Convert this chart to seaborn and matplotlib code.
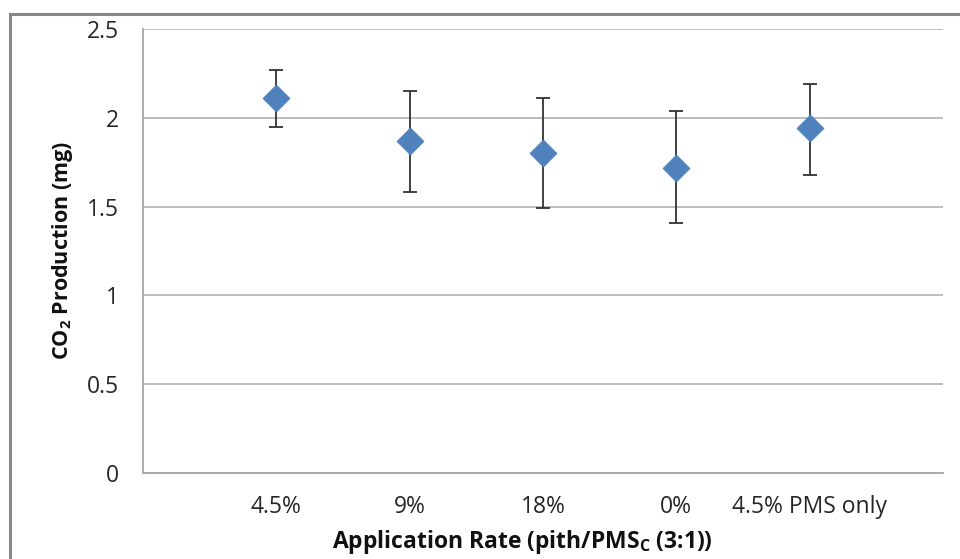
import matplotlib
matplotlib.use("Agg")
import matplotlib.pyplot as plt
import matplotlib.patches as mpatches
import pandas as pd
import seaborn as sns
from matplotlib.ticker import FuncFormatter

rates = ["4.5%", "9%", "18%", "0%", "4.5% PMS only"]
co2_mean = [2.11, 1.87, 1.80, 1.72, 1.94]
err_low = [1.95, 1.58, 1.49, 1.41, 1.68]
err_high = [2.27, 2.15, 2.11, 2.04, 2.19]

df = pd.DataFrame({"rate": rates, "co2": co2_mean, "low": err_low, "high": err_high})

sns.set_theme(style="white")
plt.rcParams["font.family"] = ["Open Sans", "DejaVu Sans"]
plt.rcParams["mathtext.fontset"] = "custom"
plt.rcParams["mathtext.rm"] = "Open Sans:bold"
plt.rcParams["mathtext.it"] = "Open Sans:bold"

fig = plt.figure(figsize=(9.6, 5.59), dpi=100)
ax = fig.add_axes((143 / 960, 86 / 559, 800 / 960, 444 / 559))

# outer chart frame, as in the Excel export
fig.patches.append(
    mpatches.Rectangle((10 / 960, -0.05), 1.1, (545 / 559) + 0.05, transform=fig.transFigure,
                       fill=False, edgecolor="#878787", linewidth=2.2, zorder=0)
)

ax.errorbar(df["rate"], df["co2"], yerr=[df["co2"] - df["low"], df["high"] - df["co2"]],
            fmt="none", ecolor="#333333", elinewidth=1.3, capsize=4.7, capthick=1.3, zorder=2)
sns.scatterplot(data=df, x="rate", y="co2", marker="D", s=190, color="#4F81BD",
                edgecolor="#4F81BD", linewidth=0.5, ax=ax, zorder=3, legend=False)

ax.set_xlim(-1, len(rates))
ax.set_ylim(0, 2.5)
ax.set_yticks([0, 0.5, 1, 1.5, 2, 2.5])
ax.yaxis.set_major_formatter(FuncFormatter(lambda v, _: f"{v:g}"))
ax.grid(axis="y", color="#B8B8B8", linewidth=1.3)
ax.grid(axis="x", visible=False)
ax.set_axisbelow(True)

for side in ("top", "right"):
    ax.spines[side].set_visible(False)
for side in ("left", "bottom"):
    ax.spines[side].set_color("#A6A6A6")
    ax.spines[side].set_linewidth(1.3)

ax.tick_params(axis="both", length=0, labelsize=16.5, colors="#262626")
ax.tick_params(axis="y", pad=17)
ax.tick_params(axis="x", pad=16)

ax.set_xlabel("Application Rate (pith/PMS$_\\mathrm{C}$ (3:1))", fontsize=16.5,
              fontweight="bold", color="#111111", va="center")
ax.set_ylabel("CO$_\\mathrm{2}$ Production (mg)", fontsize=15.5, fontweight="bold",
              color="#111111", va="center")
ax.xaxis.set_label_coords(0.474, -0.155)
ax.yaxis.set_label_coords(-0.101, 0.502)

fig.savefig("out.png", dpi=100)
